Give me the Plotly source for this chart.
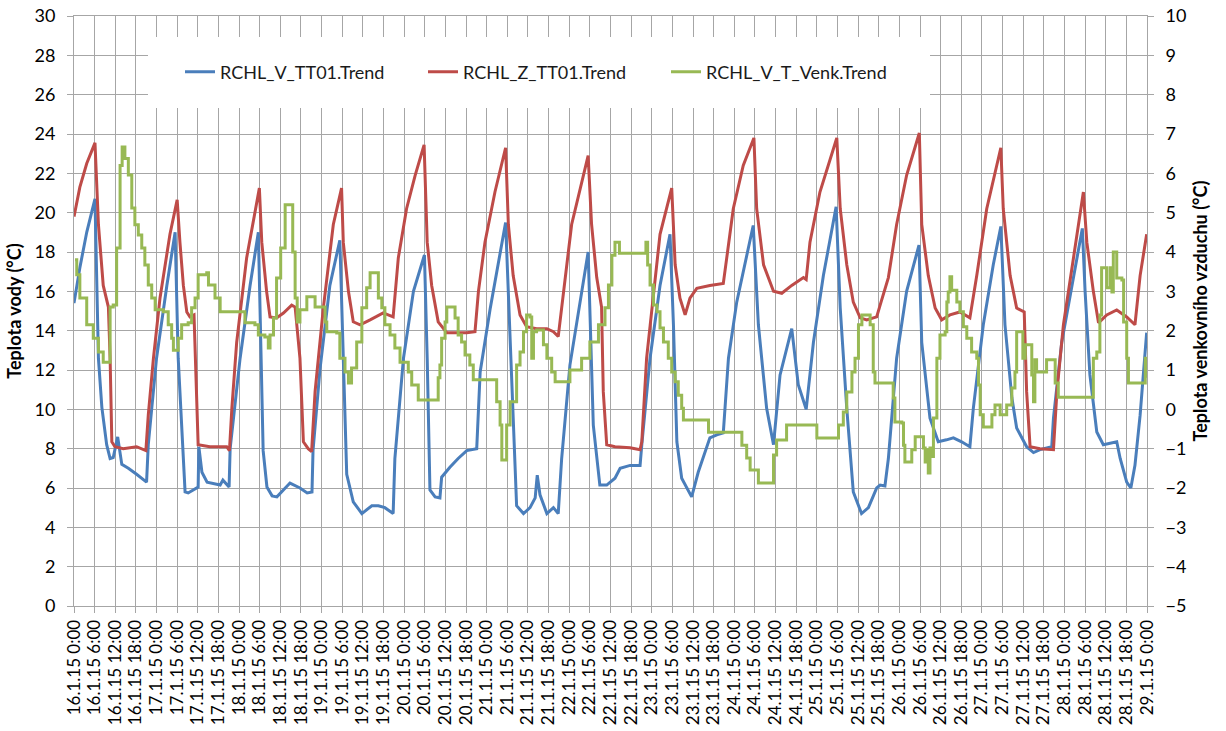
import pandas as pd
import plotly.graph_objects as go

# Sampling start: 16.1.2015 0:00; times are hours from that moment
START = pd.Timestamp("2015-01-16 00:00")

# RCHL_V_TT01.Trend  (left axis, °C)
v_tt01_h = [0.0, 1.7, 3.7, 6.1, 7.1, 8.1, 9.5, 10.5, 11.4, 12.7, 13.9, 15.8, 18.2, 21.1, 21.6, 24.0, 27.0, 29.4,
            30.3, 32.3, 33.2, 36.1, 36.3, 37.2, 38.7, 42.5, 43.3, 45.1, 45.4, 48.3, 51.2, 53.6, 55.0, 56.1, 57.6,
            59.0, 62.8, 65.7, 67.8, 69.2, 69.5, 71.5, 74.4, 77.3, 79.3, 81.2, 83.7, 86.6, 88.5, 90.4, 92.8, 93.3,
            95.8, 98.7, 101.9, 102.7, 103.5, 105.0, 106.4, 106.9, 109.3, 111.7, 114.2, 117.1, 118.1, 121.0, 125.5,
            126.3, 127.7, 128.7, 130.7, 132.6, 134.1, 134.7, 135.5, 137.5, 139.4, 140.8, 141.8, 144.2, 149.5,
            151.0, 152.9, 154.9, 157.3, 158.8, 161.7, 164.6, 165.1, 167.5, 170.4, 173.3, 174.3, 175.3, 176.7,
            179.6, 181.5, 184.9, 186.9, 188.8, 190.3, 192.7, 197.5, 199.0, 201.4, 203.4, 205.3, 208.7, 210.6,
            212.9, 215.0, 217.9, 221.6, 222.8, 224.7, 226.6, 229.0, 231.0, 233.4, 234.4, 235.8, 236.8, 239.2,
            242.1, 245.7, 246.5, 248.9, 251.3, 253.7, 255.7, 258.1, 260.5, 261.5, 264.4, 267.3, 269.5, 270.7,
            272.7, 274.1, 277.0, 279.0, 280.9, 284.3, 284.8, 287.2, 290.6, 293.2, 294.0, 295.4, 297.4, 299.3,
            303.2, 304.2, 306.1, 307.3, 308.5, 310.0, 311.9]
v_tt01 = [15.4, 17.2, 19.0, 20.7, 12.6, 10.1, 8.2, 7.5, 7.55, 8.6, 7.2, 7.0, 6.7, 6.3, 8.2, 12.6, 16.3, 19.0,
          12.6, 5.8, 5.75, 6.05, 8.1, 6.8, 6.3, 6.15, 6.4, 6.05, 8.0, 12.6, 16.3, 19.0, 7.9, 6.05, 5.6,
          5.55, 6.25, 6.0, 5.75, 5.8, 7.9, 12.0, 16.3, 18.6, 6.7, 5.3, 4.7, 5.1, 5.1, 5.0, 4.7, 7.5,
          12.6, 16.0, 17.85, 12.6, 5.9, 5.55, 5.5, 6.55, 7.05, 7.5, 7.9, 8.0, 11.9, 15.1, 19.5,
          16.0, 10.4, 5.1, 4.7, 5.0, 5.5, 6.65, 5.65, 4.7, 5.0, 4.7, 7.5, 12.25, 18.0,
          9.2, 6.15, 6.15, 6.5, 7.0, 7.15, 7.15, 8.2, 12.6, 16.3, 18.9, 14.3, 8.35, 6.5,
          5.55, 6.8, 8.55, 8.7, 8.8, 12.6, 15.45, 19.35, 14.3, 10.05, 8.2, 11.75, 14.1, 11.25,
          10.0, 13.4, 16.8, 20.3, 15.15, 10.05, 5.8, 4.7, 5.0, 6.0, 6.15, 6.1, 7.5, 12.6,
          16.0, 18.35, 13.4, 9.55, 8.35, 8.45, 8.55, 8.35, 8.1, 10.05, 14.3, 17.35, 19.3, 14.3,
          10.6, 9.05, 8.1, 7.8, 7.95, 8.1, 9.55, 13.4, 16.8, 19.2, 16.0, 11.75, 8.85, 8.2,
          8.35, 7.5, 6.3, 6.0, 7.15, 9.7, 13.9]

# RCHL_Z_TT01.Trend  (left axis, °C)
z_tt01_h = [0.0, 1.7, 3.7, 6.1, 7.1, 8.5, 10.0, 10.5, 11.0, 11.9, 14.3, 18.2, 20.9, 21.6, 23.1, 25.0, 27.9, 30.0,
            30.8, 31.8, 32.8, 33.7, 34.9, 35.5, 36.1, 39.5, 44.4, 45.2, 45.9, 47.3, 50.2, 53.9, 54.6, 56.0, 57.0,
            58.9, 60.9, 63.3, 64.3, 65.7, 66.7, 68.1, 69.1, 70.1, 72.5, 75.4, 77.8, 78.3, 79.8, 81.2, 83.2, 86.1,
            89.9, 92.8, 94.3, 96.7, 99.2, 101.8, 102.7, 104.0, 105.9, 108.4, 114.2, 116.6, 117.6, 119.5, 122.4,
            125.5, 126.3, 127.7, 129.7, 131.6, 134.5, 137.5, 139.4, 140.8, 142.3, 144.7, 149.5, 150.5, 152.0,
            153.4, 153.9, 154.9, 157.3, 161.7, 164.6, 165.1, 166.5, 168.5, 170.4, 173.8, 174.8, 176.2, 177.7,
            179.1, 181.1, 184.9, 188.8, 189.8, 191.7, 194.6, 197.7, 198.5, 200.5, 203.4, 205.8, 208.7, 212.1,
            212.9, 214.0, 216.9, 221.8, 222.8, 224.7, 226.6, 228.6, 230.5, 233.4, 234.4, 236.8, 239.2, 242.1,
            245.8, 246.5, 248.4, 250.4, 252.3, 254.7, 257.6, 260.5, 262.5, 265.4, 269.5, 270.2, 272.2, 274.1,
            276.3, 277.0, 278.0, 280.9, 284.8, 285.8, 287.7, 290.6, 293.5, 294.5, 296.4, 297.9, 300.3, 303.2,
            306.1, 308.5, 310.0, 311.9]
z_tt01 = [19.8, 21.3, 22.5, 23.55, 19.4, 16.3, 15.2, 12.6, 8.35, 8.1, 8.0, 8.1, 7.9, 9.7, 12.6, 15.65, 18.9, 20.65,
          18.5, 16.3, 14.95, 14.7, 14.8, 10.9, 8.2, 8.1, 8.1, 7.9, 10.05, 13.4, 17.7, 21.25, 18.5, 16.0, 14.7,
          14.65, 14.9, 15.3, 15.2, 12.6, 8.35, 8.0, 7.85, 10.9, 15.15, 19.4, 21.25, 18.5, 16.0, 14.45, 14.3, 14.55,
          14.9, 14.7, 17.7, 20.2, 21.9, 23.45, 18.5, 16.3, 14.45, 13.9, 13.9, 13.95, 16.0, 18.5, 21.05,
          23.3, 19.4, 16.8, 14.8, 14.2, 14.1, 14.1, 13.95, 13.7, 16.0, 19.4, 22.9, 19.4, 16.7,
          15.2, 10.9, 8.2, 8.1, 8.05, 7.95, 8.35, 12.6, 16.0, 18.9, 21.25, 17.35, 15.65, 14.8,
          15.65, 16.15, 16.3, 16.4, 17.7, 20.2, 22.4, 23.8, 20.2, 17.35, 16.0, 15.9, 16.3, 16.7,
          16.6, 18.5, 21.05, 23.8, 20.2, 17.35, 15.45, 14.65, 14.55, 14.7, 15.3, 16.7, 19.4, 21.9,
          24.05, 19.4, 16.8, 15.15, 14.55, 14.8, 14.95, 14.65, 16.8, 20.2, 23.3, 20.2, 16.8, 15.15,
          14.95, 10.9, 8.1, 8.0, 7.95, 10.9, 14.3, 17.7, 21.05, 18.5, 16.0, 14.4, 14.8, 15.05,
          14.7, 14.3, 16.8, 18.9]

# RCHL_V_T_Venk.Trend  (right axis, °C), logged as a stepped signal
venk_h = [0.3, 0.8, 1.7, 3.7, 5.6, 7.1, 8.5, 10.0, 10.5, 11.4, 12.4, 13.4, 14.0, 14.8, 15.8, 16.8, 17.7, 18.7,
          19.7, 20.6, 21.6, 22.6, 23.6, 26.0, 27.4, 28.4, 28.9, 29.9, 30.3, 31.3, 33.2, 34.2, 35.2, 36.1, 38.6,
          39.1, 41.0, 42.5, 49.2, 49.7, 52.6, 53.6, 55.5, 56.5, 57.0, 58.0, 58.9, 60.1, 61.4, 62.8, 63.6, 64.3,
          64.9, 65.7, 67.7, 69.5, 70.1, 72.0, 73.0, 73.5, 76.4, 77.3, 78.8, 79.8, 80.7, 82.2, 83.7, 85.1, 86.1,
          87.5, 88.5, 89.5, 90.4, 91.9, 93.3, 94.8, 97.2, 98.2, 100.1, 105.5, 105.9, 106.4, 106.9, 107.9, 108.4,
          109.8, 110.8, 111.7, 112.7, 113.7, 115.1, 116.1, 122.4, 122.9, 123.9, 124.4, 125.3, 125.8, 126.8,
          127.7, 128.7, 129.7, 130.7, 131.6, 132.6, 133.1, 133.6, 134.5, 136.0, 136.5, 137.5, 138.9, 139.9,
          143.7, 144.2, 147.1, 147.6, 149.5, 150.0, 152.0, 152.5, 154.4, 155.4, 156.4, 157.3, 158.3, 158.6,
          165.6, 166.3, 166.8, 167.5, 168.5, 169.5, 170.4, 171.4, 172.8, 173.8, 174.8, 175.7, 176.7, 177.2,
          184.0, 184.5, 193.2, 194.2, 195.6, 196.6, 198.5, 199.0, 202.9, 203.4, 204.3, 206.3, 207.2, 215.5,
          216.0, 221.8, 222.3, 223.7, 224.7, 226.2, 227.1, 228.1, 229.1, 230.5, 231.5, 232.4, 232.9, 237.8,
          238.2, 238.7, 240.7, 241.2, 241.6, 243.1, 243.6, 244.6, 246.5, 247.0, 247.5, 248.0, 248.4, 248.9,
          249.4, 249.9, 250.9, 251.8, 253.3, 253.8, 254.2, 254.7, 255.2, 256.2, 256.7, 257.6, 258.6, 259.6,
          261.0, 262.5, 263.0, 263.5, 264.4, 266.4, 266.9, 267.8, 268.7, 269.3, 270.7, 271.2, 272.7, 273.6,
          274.1, 275.1, 275.9, 276.6, 278.0, 278.5, 279.0, 279.4, 279.9, 282.4, 282.8, 284.8, 285.3, 286.2,
          295.4, 296.4, 297.4, 298.3, 298.8, 299.8, 300.3, 301.3, 301.8, 302.2, 303.2, 304.7, 305.2, 306.1,
          306.6, 311.0, 311.5, 311.9]
venk = [3.8, 3.42, 2.83, 2.15, 1.81, 1.46, 1.2, 1.2, 2.6, 2.65, 4.1, 6.2, 6.67, 6.38, 5.96, 5.12, 4.69, 4.43,
        4.1, 3.67, 3.16, 2.83, 2.53, 2.48, 2.15, 1.81, 1.5, 1.5, 1.81, 2.15, 2.2, 2.58, 2.83, 3.42, 3.47,
        3.16, 2.83, 2.48, 2.48, 2.2, 2.15, 1.89, 1.84, 1.56, 1.89, 2.32, 3.34, 4.1, 5.2, 5.2, 4.0, 2.83,
        2.22, 2.53, 2.86, 2.86, 2.6, 2.6, 2.22, 1.97, 1.94, 1.3, 0.95, 0.67, 1.05, 1.71, 2.58, 3.09, 3.47,
        3.47, 2.83, 2.58, 2.15, 1.89, 1.56, 1.2, 0.95, 0.62, 0.24, 0.24, 0.8, 1.13, 1.81, 2.22, 2.6,
        2.6, 2.32, 1.89, 1.71, 1.38, 1.13, 0.75, 0.75, 0.19, -0.4, -1.29, -1.29, -0.4, 0.19,
        0.19, 1.13, 1.46, 1.97, 2.4, 2.35, 1.3, 1.97, 2.02, 2.02, 1.64, 1.3, 0.95, 0.7,
        0.7, 1.0, 1.0, 1.3, 1.3, 1.71, 1.71, 2.15, 2.58, 3.16, 3.92, 4.25, 4.25, 3.97,
        3.97, 4.25, 3.67, 3.16, 2.65, 2.48, 2.07, 1.71, 1.3, 0.95, 0.7, 0.36, 0.03, -0.27,
        -0.27, -0.58, -0.58, -0.91, -1.24, -1.54, -1.54, -1.87, -1.87, -1.16, -0.78, -0.78, -0.4, -0.4,
        -0.73, -0.73, -0.4, -0.07, 0.44, 0.95, 1.3, 2.15, 2.4, 2.4, 2.15, 0.95, 0.67, 0.67,
        0.29, -0.32, -0.35, -0.91, -1.34, -1.34, -1.03, -0.7, -0.7, -0.98, -1.34, -1.03, -1.62, -0.98,
        -1.2, -0.22, 1.3, 1.89, 1.97, 2.73, 2.98, 3.37, 3.03, 3.03, 2.73, 2.48, 2.1, 1.81,
        1.46, 1.3, 0.62, -0.14, -0.45, -0.45, -0.14, 0.11, 0.11, -0.14, -0.14, 0.11, 0.54, 0.95,
        1.97, 1.97, 1.3, 1.64, 1.64, 0.87, 0.19, 1.26, 0.95, 0.95, 1.26, 1.26, 0.67, 0.31,
        0.31, 1.3, 1.46, 2.4, 3.6, 3.6, 3.09, 3.6, 2.98, 4.0, 3.34, 3.29, 2.22, 1.3,
        0.67, 0.67, 1.3, 0.8]


def to_time(hours):
    return START + pd.to_timedelta(hours, unit="h")


FONT = "Lato"
GRID = "#a6a6a6"

fig = go.Figure()
fig.add_trace(go.Scatter(x=to_time(v_tt01_h), y=v_tt01, name="RCHL_V_TT01.Trend", mode="lines",
                         line=dict(color="#4a7ebb", width=3)))
fig.add_trace(go.Scatter(x=to_time(z_tt01_h), y=z_tt01, name="RCHL_Z_TT01.Trend", mode="lines",
                         line=dict(color="#be4b48", width=3)))
fig.add_trace(go.Scatter(x=to_time(venk_h), y=venk, name="RCHL_V_T_Venk.Trend", mode="lines",
                         line=dict(color="#98b954", width=3, shape="hv"), yaxis="y2"))

# white panel behind the legend
fig.add_shape(type="rect", xref="paper", yref="paper",
              x0=(148 - 74) / 1073, x1=(930 - 74) / 1073,
              y0=(606 - 108) / 590, y1=(606 - 37) / 590,
              fillcolor="white", line=dict(width=0), layer="above")

fig.update_layout(
    width=1226, height=731,
    margin=dict(l=74, r=79, t=16, b=125),
    paper_bgcolor="white", plot_bgcolor="white",
    font=dict(family=FONT, size=16, color="#000000"),
    showlegend=True,
    legend=dict(orientation="h", x=(180 - 74) / 1073, xanchor="left",
                y=(606 - 72) / 590, yanchor="middle",
                bgcolor="rgba(0,0,0,0)", borderwidth=0,
                entrywidth=198, entrywidthmode="pixels",
                font=dict(family=FONT, size=18, color="#1a1a1a")),
    xaxis=dict(type="date", automargin=False,
               range=[START, START + pd.Timedelta(hours=312)],
               dtick=6 * 3600 * 1000, tick0=START,
               tickformat="%-d.%-m.%y %-H:%M", tickangle=-90,
               tickfont=dict(family=FONT, size=17),
               showgrid=True, gridcolor=GRID, gridwidth=1,
               ticks="outside", ticklen=6, tickcolor=GRID,
               showline=True, linecolor=GRID, linewidth=1, mirror=True,
               zeroline=False),
    yaxis=dict(range=[0, 30], dtick=2, tick0=0, automargin=False,
               title=dict(text="<b>Teplota vody (°C)</b>", font=dict(family=FONT, size=18), standoff=8),
               tickfont=dict(family=FONT, size=18), ticklabelstandoff=8,
               showgrid=True, gridcolor=GRID, gridwidth=1,
               ticks="outside", ticklen=6, tickcolor=GRID,
               showline=True, linecolor=GRID, linewidth=1,
               zeroline=False),
    yaxis2=dict(range=[-5, 10], dtick=1, tick0=-5, overlaying="y", side="right", automargin=False,
                title=dict(text="<b>Teplota venkovního vzduchu (°C)</b>", font=dict(family=FONT, size=18),
                           standoff=8),
                tickfont=dict(family=FONT, size=18), ticklabelstandoff=8,
                showgrid=False, ticks="outside", ticklen=6, tickcolor=GRID,
                showline=True, linecolor=GRID, linewidth=1,
                zeroline=False),
)

fig.write_html("out.html")
